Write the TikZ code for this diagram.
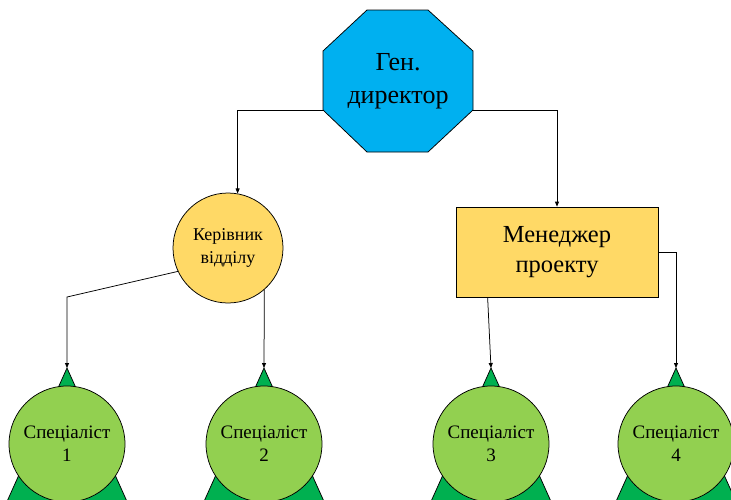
\documentclass[tikz,border=0pt]{standalone}
\usepackage{fontspec}
\setmainfont{Liberation Serif}
\usetikzlibrary{arrows.meta,calc}
\definecolor{octblue}{HTML}{00B0F0}
\definecolor{boxyellow}{HTML}{FFD966}
\definecolor{leafgreen}{HTML}{92D050}
\definecolor{basegreen}{HTML}{00B050}
\tikzset{
  outline/.style={draw=black, line width=0.75pt},
  conn/.style={draw=black, line width=0.75pt, -{Triangle[length=5pt,width=4pt]}},
  plain/.style={draw=black, line width=0.75pt},
  headtext/.style={align=center, inner sep=0pt, font=\fontsize{26}{33}\selectfont},
  boxtext/.style={align=center, font=\fontsize{24.5}{30}\selectfont},
  smalltext/.style={align=center, font=\fontsize{18}{23}\selectfont},
  leaftext/.style={align=center, font=\fontsize{19}{23}\selectfont},
  headcircle/.style={outline, circle, fill=boxyellow, minimum size=110pt, inner sep=0pt, smalltext},
  mgrbox/.style={outline, rectangle, fill=boxyellow, minimum width=202pt, minimum height=90pt, inner sep=0pt, boxtext},
  leafcircle/.style={outline, circle, fill=leafgreen, minimum size=116pt, inner sep=0pt, leaftext},
  leafbase/.style={outline, fill=basegreen}
}
\begin{document}
\begin{tikzpicture}[x=1pt,y=-1pt]
\useasboundingbox (0,0) rectangle (731,499);
\clip (0,0) rectangle (731,499);

% general director: octagon
\coordinate (genc) at (398,81);
\draw[outline, fill=octblue]
  ($(genc)+(-31,-71)$) -- ($(genc)+(30,-71)$) -- ($(genc)+(75,-30)$) -- ($(genc)+(75,29)$)
  -- ($(genc)+(30,71)$) -- ($(genc)+(-31,71)$) -- ($(genc)+(-75,29)$) -- ($(genc)+(-75,-30)$) -- cycle;
\coordinate (octL) at ($(genc)+(-75,29)$);
\coordinate (octR) at ($(genc)+(75,29)$);
\node[headtext] (gen) at (genc) {Ген.\\директор};

% second level
\node[headcircle] (ker) at (228,248) {Керівник\\відділу};
\node[mgrbox] (mgr) at (557,252) {Менеджер\\проекту};

% specialists: circle on a green triangle
\foreach \n/\x in {1/67,2/264,3/491,4/676}{
  \coordinate (top\n) at (\x,368);
  \draw[leafbase] (top\n) -- (\x+80,546) -- (\x-80,546) -- cycle;
  \node[leafcircle] (sp\n) at (\x,444) {Спеціаліст\\\n};
}

% connectors
\draw[conn] (octL) -| (ker.80);
\draw[conn] (octR) -| (mgr.north);
\coordinate (bendA) at (67,297);
\draw[conn] (ker.205) -- (bendA) -- (top1);
\draw[conn] (ker.-49) -- (top2);
\draw[conn] ($(mgr.south west)+(32,0)$) -- (top3);
\draw[conn] (mgr.east) -| (top4);
\end{tikzpicture}
\end{document}
